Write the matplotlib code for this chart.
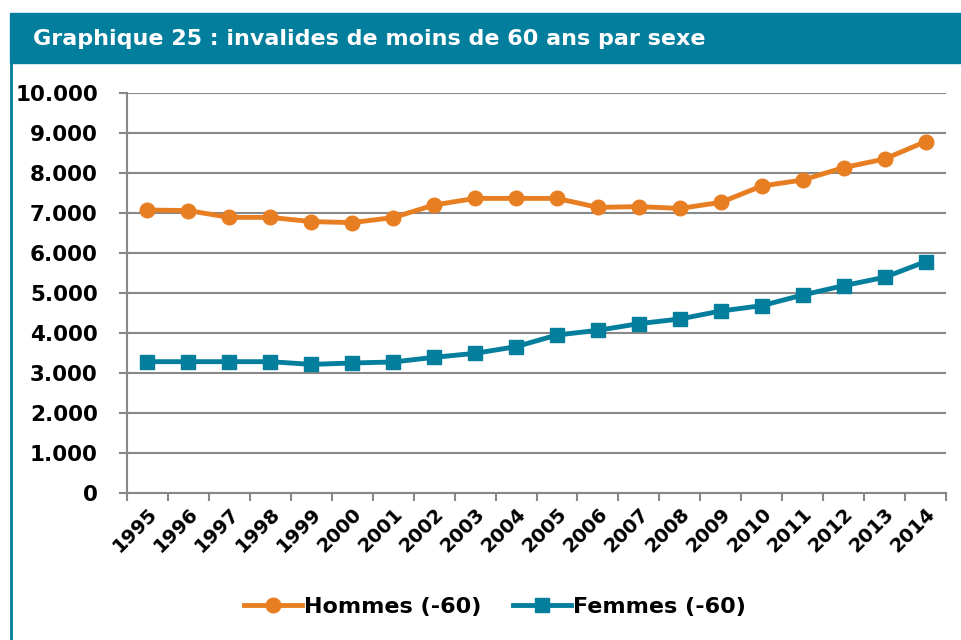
import matplotlib.pyplot as plt
from matplotlib.patches import Rectangle
from matplotlib.lines import Line2D
from matplotlib.ticker import FuncFormatter

years = [str(y) for y in range(1995, 2015)]
hommes = [7075, 7060, 6890, 6890, 6785, 6760, 6885, 7200, 7365, 7365,
          7365, 7140, 7160, 7115, 7265, 7675, 7825, 8135, 8350, 8785]
femmes = [3283, 3283, 3283, 3283, 3215, 3250, 3275, 3392, 3492, 3658,
          3950, 4067, 4233, 4350, 4550, 4683, 4950, 5183, 5392, 5783]
title = "Graphique 25 : invalides de moins de 60 ans par sexe"

orange = "#E87E22"
teal = "#037E9C"
grey = "#888888"

plt.rcParams["font.family"] = "DejaVu Sans"
plt.rcParams["font.weight"] = "bold"

fig = plt.figure(figsize=(9.61, 6.40), dpi=100)

# title bar and left frame line
fig.patches.append(Rectangle((10 / 961, 1 - 63 / 640), 1, 50 / 640,
                             transform=fig.transFigure, color=teal, zorder=0))
fig.add_artist(Line2D([11 / 961, 11 / 961], [0, 1 - 63 / 640],
                      transform=fig.transFigure, color=teal, lw=2))
fig.text(33 / 961, 1 - 39 / 640, title, color="white", fontsize=16,
         fontweight="bold", va="center", ha="left")

ax = fig.add_axes([127 / 961, 1 - 493 / 640, (946 - 127) / 961, 400 / 640])
x = range(len(years))
ax.plot(x, hommes, color=orange, lw=3.5, marker="o", ms=10.5, label="Hommes (-60)")
ax.plot(x, femmes, color=teal, lw=3.5, marker="s", ms=10, label="Femmes (-60)")

ax.set_xlim(-0.5, len(years) - 0.5)
ax.set_ylim(0, 10000)
ax.set_yticks(range(0, 10001, 1000))
ax.yaxis.set_major_formatter(FuncFormatter(lambda v, p: f"{int(v):,}".replace(",", ".")))
ax.grid(axis="y", color=grey, lw=1.5)
ax.set_axisbelow(True)

ax.set_xticks(list(x))
ax.set_xticklabels(years, rotation=45, ha="right", rotation_mode="anchor", fontsize=14)
ax.set_xticks([i - 0.5 for i in range(len(years) + 1)], minor=True)
ax.tick_params(axis="x", which="major", length=0, pad=8)
ax.tick_params(axis="x", which="minor", length=6, color=grey, width=1.5, direction="out")
ax.tick_params(axis="y", length=6, color=grey, width=1.5, labelsize=15.5, pad=15)

for s in ["top", "right"]:
    ax.spines[s].set_visible(False)
for s in ["left", "bottom"]:
    ax.spines[s].set_color(grey)
    ax.spines[s].set_linewidth(1.5)

fig.legend(loc="center", bbox_to_anchor=(495 / 961, 1 - 607 / 640), ncol=2,
           frameon=False, fontsize=16, handlelength=2.6, handletextpad=0.1,
           columnspacing=1.4)

fig.savefig("out.png", dpi=100)
